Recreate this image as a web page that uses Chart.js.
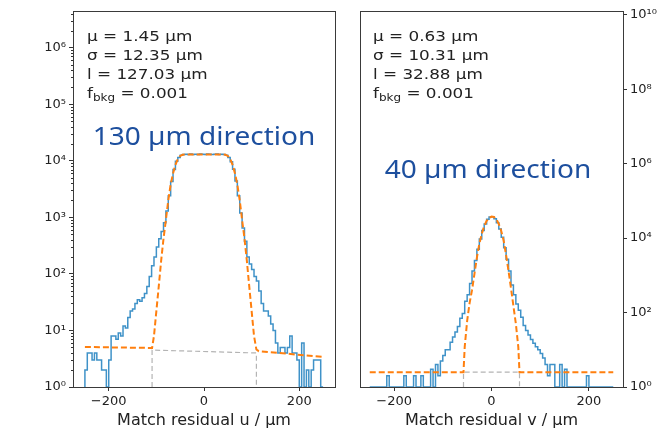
<!DOCTYPE html>
<html>
<head>
<meta charset="utf-8">
<script src="https://cdn.jsdelivr.net/npm/chart.js@4.4.1/dist/chart.umd.min.js"></script>
<style>
  html, body { margin: 0; padding: 0; background: #fff; }
  #wrap { position: relative; width: 664px; height: 432px; }
  canvas { position: absolute; top: 0; }
  #chartU { left: 0; }
  #chartV { left: 340px; }
</style>
</head>
<body>
<div id="wrap">
  <canvas id="chartU" width="340" height="432"></canvas>
  <canvas id="chartV" width="324" height="432"></canvas>
</div>
<script>
// histogram binning: 5 µm bins from -250 to 250 µm
const binStart = -250;
const binWidth = 5;

// entries per bin, residual u (100 bins)
const countsU = [
  2, 4, 4, 3, 4, 3, 3, 2, 2, 0,
  3, 8, 8, 7, 9, 8, 12, 11, 17, 22,
  24, 30, 35, 33, 38, 45, 60, 90, 140, 200,
  300, 420, 560, 800, 1300, 2400, 4300, 7000, 9800, 11500,
  12500, 12900, 13100, 13000, 13200, 13000, 13100, 13000, 13200, 13100,
  13000, 13200, 13100, 13000, 13100, 13200, 13000, 13100, 12900, 12500,
  11400, 9600, 7100, 4400, 2400, 1200, 650, 380, 200, 150,
  120, 90, 75, 50, 30, 22, 22, 18, 13, 10,
  6, 4, 5, 5, 4, 5, 8, 4, 4, 3,
  0, 6, 0, 2, 0, 2, 3, 3, 3, 0
];

// entries per bin, residual v (100 bins)
const countsV = [
  0, 0, 0, 0, 0, 0, 0, 2, 0, 0,
  0, 0, 0, 0, 2, 0, 0, 0, 2, 0,
  0, 2, 0, 0, 0, 3, 0, 4, 2, 5,
  7, 10, 10, 16, 22, 30, 42, 70, 95, 200,
  300, 600, 1300, 2500, 5000, 9500, 16000, 24000, 32000, 37000,
  37500, 33000, 26000, 17500, 10500, 5500, 2700, 1300, 550, 300,
  170, 115, 75, 45, 33, 25, 19, 15, 12, 10,
  8, 6, 4, 2, 4, 4, 0, 0, 4, 0,
  3, 0, 0, 0, 0, 0, 0, 0, 0, 2,
  0, 0, 0, 0, 0, 0, 0, 0, 0, 0
];

// fitted model (signal + background)
const fitXU = [-250, -109, -105, -100, -95, -90, -85, -80, -75, -70, -65, -60, -55, -50, -45, -40,
  0, 40, 45, 50, 55, 60, 65, 70, 75, 80, 85, 90, 95, 100, 105, 110, 115, 250];
const fitYU = [5.1, 4.9, 8, 22, 60, 170, 420, 900, 2000, 3800, 6000, 8500, 10800, 12200, 12800, 13000,
  13000, 13000, 12800, 12200, 10800, 8500, 6000, 3800, 2000, 900, 420, 170, 60, 22, 8, 4.6, 4.3, 3.4];

const fitXV = [-250, -57.5, -55, -50, -45, -40, -35, -30, -25, -20, -15, -10, -5, 0,
  5, 10, 15, 20, 25, 30, 35, 40, 45, 50, 55, 57.5, 250];
const fitYV = [2.5, 2.5, 12, 60, 180, 400, 1100, 3000, 7000, 13000, 21000, 29000, 35000, 38000,
  37000, 32000, 24000, 15500, 8500, 3500, 1300, 450, 150, 50, 12, 2.5, 2.5];

// background component
const bkgXU = [-109, -109, 110, 110];
const bkgYU = [1, 4.5, 4.0, 1];
const bkgXV = [-57.5, -57.5, 57.5, 57.5];
const bkgYV = [1, 2.5, 2.5, 1];

// axis ticks
const xTicks = [-200, 0, 200];
const yTicksU = [1, 10, 100, 1000, 10000, 100000, 1000000];
const yTicksV = [1, 100, 10000, 1000000, 100000000, 10000000000];

// fit results shown in the corner
const statsU = [['μ', '', ' = 1.45 µm'], ['σ', '', ' = 12.35 µm'], ['l', '', ' = 127.03 µm'], ['f', 'bkg', ' = 0.001']];
const statsV = [['μ', '', ' = 0.63 µm'], ['σ', '', ' = 10.31 µm'], ['l', '', ' = 32.88 µm'], ['f', 'bkg', ' = 0.001']];

Chart.defaults.font.family = '"DejaVu Sans", sans-serif';
Chart.defaults.color = '#222';

const SUP = { '0': '⁰', '1': '¹', '2': '²', '3': '³', '4': '⁴', '5': '⁵', '6': '⁶', '7': '⁷', '8': '⁸', '9': '⁹' };
const decadeLabel = v => '10' + String(Math.round(Math.log10(v))).split('').map(c => SUP[c]).join('');

function histPoints(counts) {
  const pts = [{ x: binStart, y: 1 }];
  counts.forEach((c, i) => pts.push({ x: binStart + i * binWidth, y: Math.max(c, 1) }));
  pts.push({ x: binStart + counts.length * binWidth, y: 1 });
  return pts;
}
const zip = (xs, ys) => xs.map((x, i) => ({ x, y: ys[i] }));

// text drawn a little wider than the font's natural width
function wideText(ctx, text, x, y, sx) {
  ctx.save();
  ctx.translate(x, y);
  ctx.scale(sx, 1);
  ctx.fillText(text, 0, 0);
  ctx.restore();
  return ctx.measureText(text).width * sx;
}

// frame, fit summary text, direction label and minor log ticks
const panelDecor = {
  id: 'panelDecor',
  afterDatasetsDraw(chart, args, opts) {
    const { ctx, chartArea: a } = chart;
    ctx.save();

    if (opts.minorDecades) {
      const s = chart.scales.y;
      ctx.strokeStyle = '#333';
      ctx.lineWidth = 1;
      ctx.beginPath();
      for (let d = 0; d < opts.minorDecades; d++) {
        for (let k = 2; k < 10; k++) {
          const v = k * Math.pow(10, d);
          if (v > s.max) continue;
          const y = Math.round(s.getPixelForValue(v)) + 0.5;
          ctx.moveTo(a.left - 2, y);
          ctx.lineTo(a.left, y);
        }
      }
      ctx.stroke();
    }

    ctx.strokeStyle = '#3a3a3a';
    ctx.lineWidth = 1;
    ctx.strokeRect(Math.round(a.left) + 0.5, Math.round(a.top) + 0.5,
      Math.round(a.right - a.left), Math.round(a.bottom - a.top));

    ctx.fillStyle = '#222';
    ctx.textBaseline = 'alphabetic';
    let y = a.top + 30;
    opts.stats.forEach(([sym, sub, rest]) => {
      let x = a.left + opts.statsLeft;
      ctx.font = '14px "DejaVu Sans"';
      x += wideText(ctx, sym, x, y, 1.2);
      if (sub) {
        ctx.font = '10px "DejaVu Sans"';
        x += wideText(ctx, sub, x, y + 3, 1.2);
        ctx.font = '14px "DejaVu Sans"';
      }
      wideText(ctx, rest, x, y, 1.2);
      y += 19;
    });

    ctx.font = '25px "Noto Sans"';
    ctx.fillStyle = '#1d4f9e';
    ctx.textBaseline = 'middle';
    const w = ctx.measureText(opts.label).width * 1.12;
    wideText(ctx, opts.label, a.left + opts.labelX - w / 2, a.top + opts.labelY, 1.12);
    ctx.restore();
  }
};

function makePanel(id, p) {
  return new Chart(document.getElementById(id), {
    type: 'line',
    data: {
      datasets: [
        {
          data: zip(p.fitX, p.fitY),
          borderColor: '#ff7f0e',
          borderWidth: 2,
          borderDash: [6, 3],
          pointRadius: 0
        },
        {
          data: zip(p.bkgX, p.bkgY),
          borderColor: '#b4b4b4',
          borderWidth: 1.2,
          borderDash: [5, 3],
          pointRadius: 0
        },
        {
          data: histPoints(p.counts),
          borderColor: '#3f92c8',
          borderWidth: 1.5,
          stepped: 'before',
          pointRadius: 0
        }
      ]
    },
    options: {
      responsive: false,
      animation: false,
      layout: { padding: p.padding },
      plugins: {
        legend: { display: false },
        tooltip: { enabled: false },
        panelDecor: {
          stats: p.stats,
          statsLeft: p.statsLeft,
          label: p.label,
          labelX: p.labelX,
          labelY: p.labelY,
          minorDecades: p.minorDecades
        }
      },
      scales: {
        x: {
          type: 'linear',
          min: p.xMin,
          max: p.xMax,
          afterBuildTicks: s => { s.ticks = xTicks.map(v => ({ value: v })); },
          afterFit: s => { s.height = 45; },
          ticks: {
            font: { size: 13 },
            color: '#222',
            padding: 3,
            maxRotation: 0,
            callback: v => String(v).replace('-', '\u2212')
          },
          grid: { display: true, drawOnChartArea: false, drawTicks: true, tickLength: 4, color: '#333' },
          border: { display: false },
          title: {
            display: true,
            text: p.xTitle,
            font: { size: 16 },
            color: '#222',
            padding: { top: 0, bottom: 2 }
          }
        },
        y: {
          type: 'logarithmic',
          position: p.yPos,
          min: 1,
          max: p.yMax,
          afterBuildTicks: s => { s.ticks = p.yTicks.map(v => ({ value: v })); },
          afterFit: s => { s.width = p.yWidth; },
          ticks: {
            font: { size: 13 },
            color: '#222',
            padding: 3,
            autoSkip: false,
            callback: v => decadeLabel(v)
          },
          grid: { display: true, drawOnChartArea: false, drawTicks: true, tickLength: 4, color: '#333' },
          border: { display: false }
        }
      }
    },
    plugins: [panelDecor]
  });
}

makePanel('chartU', {
  counts: countsU, fitX: fitXU, fitY: fitYU, bkgX: bkgXU, bkgY: bkgYU,
  stats: statsU, statsLeft: 14, label: '130 µm direction', labelX: 131, labelY: 127,
  minorDecades: 7,
  xMin: -275, xMax: 275, xTitle: 'Match residual u / µm',
  yPos: 'left', yMax: 4.5e6, yTicks: yTicksU, yWidth: 73,
  padding: { top: 10, right: 5, left: 0, bottom: 0 }
});

makePanel('chartV', {
  counts: countsV, fitX: fitXV, fitY: fitYV, bkgX: bkgXV, bkgY: bkgYV,
  stats: statsV, statsLeft: 13, label: '40 µm direction', labelX: 128, labelY: 160,
  minorDecades: 0,
  xMin: -270, xMax: 270, xTitle: 'Match residual v / µm',
  yPos: 'right', yMax: 1.28e10, yTicks: yTicksV, yWidth: 41,
  padding: { top: 10, right: 0, left: 20, bottom: 0 }
});
</script>
</body>
</html>
